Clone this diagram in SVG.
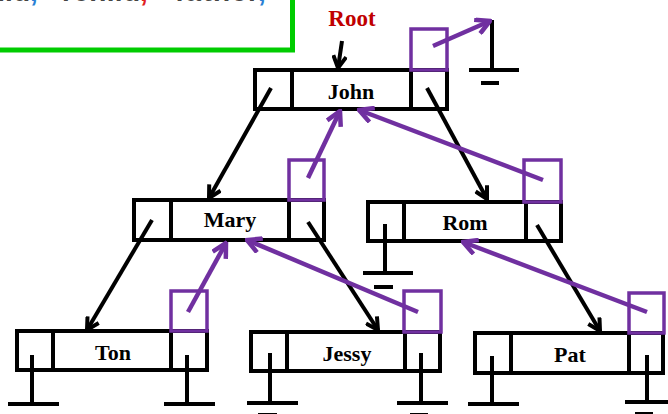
<svg xmlns="http://www.w3.org/2000/svg" width="668" height="414" viewBox="0 0 668 414">
<style>
.cell{fill:none;stroke:#000;stroke-width:4}
.pbox{fill:none;stroke:#7030a0;stroke-width:3.5}
.lbl{font-family:"Liberation Serif",serif;font-weight:bold;font-size:22px;fill:#000;text-anchor:middle}
.gnd{stroke:#000;stroke-width:4;fill:none}
.blk{stroke:#000;stroke-width:4;fill:none;marker-end:url(#ab)}
.pur{stroke:#7030a0;stroke-width:4.5;fill:none;marker-end:url(#ap)}
.top{font-family:"Liberation Sans",sans-serif;font-weight:bold;font-size:28px;fill:#444}
</style>
<defs>
<marker id="ab" viewBox="0 0 16 16" refX="14" refY="8" markerWidth="16" markerHeight="16" markerUnits="userSpaceOnUse" orient="auto">
<path d="M2,1.5 L14,8 L2,14.5" fill="none" stroke="#000" stroke-width="4"/>
</marker>
<marker id="ap" viewBox="0 0 18 18" refX="16" refY="9" markerWidth="18" markerHeight="18" markerUnits="userSpaceOnUse" orient="auto">
<path d="M2,1.5 L16,9 L2,16.5" fill="none" stroke="#7030a0" stroke-width="4.5"/>
</marker>
</defs>
<rect width="668" height="414" fill="#fff"/>
<g id="legend">
<rect x="-10" y="-10" width="302.5" height="60" fill="#fff" stroke="#00cc00" stroke-width="5"/>
<text class="top" x="30" y="1" text-anchor="end">hild</text>
<text class="top" x="30" y="1" style="fill:#2a7fd4">,</text>
<text class="top" x="62" y="1" textLength="78">rchild</text>
<text class="top" x="140" y="1" style="fill:#e02020">,</text>
<text class="top" x="175" y="1" textLength="84">father</text>
<text class="top" x="258" y="1" style="fill:#2a7fd4">,</text>
</g>
<g id="root">
<text x="352" y="26" class="lbl" style="fill:#c00000;font-size:23px">Root</text>
</g>
<g id="john">
<rect class="cell" x="255" y="70" width="192" height="39"/>
<line class="cell" x1="292" y1="70" x2="292" y2="109"/>
<line class="cell" x1="411" y1="70" x2="411" y2="109"/>
<rect class="pbox" x="411" y="29" width="36" height="41"/>
<text class="lbl" x="351" y="99">John</text>
</g>
<g id="mary">
<rect class="cell" x="134" y="200" width="190" height="40"/>
<line class="cell" x1="171" y1="200" x2="171" y2="240"/>
<line class="cell" x1="289" y1="200" x2="289" y2="240"/>
<rect class="pbox" x="289" y="160" width="35" height="40"/>
<text class="lbl" x="230" y="227">Mary</text>
</g>
<g id="rom">
<rect class="cell" x="368" y="202" width="193" height="39"/>
<line class="cell" x1="404" y1="202" x2="404" y2="241"/>
<line class="cell" x1="526" y1="202" x2="526" y2="241"/>
<rect class="pbox" x="524" y="160" width="37" height="42"/>
<text class="lbl" x="465" y="230">Rom</text>
<path class="gnd" d="M385,224 V273 M363,273 H413 M374,287 H393"/>
</g>
<g id="ton">
<rect class="cell" x="17" y="331" width="190" height="39"/>
<line class="cell" x1="53" y1="331" x2="53" y2="370"/>
<line class="cell" x1="171" y1="331" x2="171" y2="370"/>
<rect class="pbox" x="171" y="291" width="36" height="40"/>
<text class="lbl" x="113" y="360">Ton</text>
<path class="gnd" d="M32,355 V404 M8,404 H59 M187,355 V404 M164,404 H215"/>
</g>
<g id="jessy">
<rect class="cell" x="251" y="332" width="189" height="39"/>
<line class="cell" x1="287" y1="332" x2="287" y2="371"/>
<line class="cell" x1="405" y1="332" x2="405" y2="371"/>
<rect class="pbox" x="404" y="291" width="37" height="41"/>
<text class="lbl" x="347" y="361">Jessy</text>
<path class="gnd" d="M270,353 V403 M247,403 H298 M421,353 V403 M397,403 H448 M258,415 H277 M410,415 H428"/>
</g>
<g id="pat">
<rect class="cell" x="475" y="333" width="188" height="40"/>
<line class="cell" x1="511" y1="333" x2="511" y2="373"/>
<line class="cell" x1="629" y1="333" x2="629" y2="373"/>
<rect class="pbox" x="629" y="293" width="35" height="40"/>
<text class="lbl" x="570" y="362">Pat</text>
<path class="gnd" d="M492,356 V404 M468,404 H519 M647,355 V402 M625,402 H670 M635,414 H653"/>
</g>
<g id="ground-john">
<path class="gnd" d="M492,20 V70 M469,70 H519 M481,83 H499"/>
</g>
<g id="connectors">
<line class="blk" x1="342" y1="41" x2="338" y2="68"/>
<line class="blk" x1="271" y1="88" x2="209" y2="198"/>
<line class="blk" x1="427" y1="88" x2="487" y2="199"/>
<line class="blk" x1="152" y1="220" x2="87" y2="330"/>
<line class="blk" x1="308" y1="222" x2="378" y2="330"/>
<line class="blk" x1="537" y1="225" x2="600" y2="331"/>
<line class="pur" x1="433" y1="46" x2="490" y2="21"/>
<line class="pur" x1="308" y1="178" x2="340" y2="111"/>
<line class="pur" x1="543" y1="180" x2="359" y2="110"/>
<line class="pur" x1="188" y1="312" x2="226" y2="243"/>
<line class="pur" x1="418" y1="312" x2="247" y2="240"/>
<line class="pur" x1="647" y1="312" x2="463" y2="242"/>
</g>
</svg>
